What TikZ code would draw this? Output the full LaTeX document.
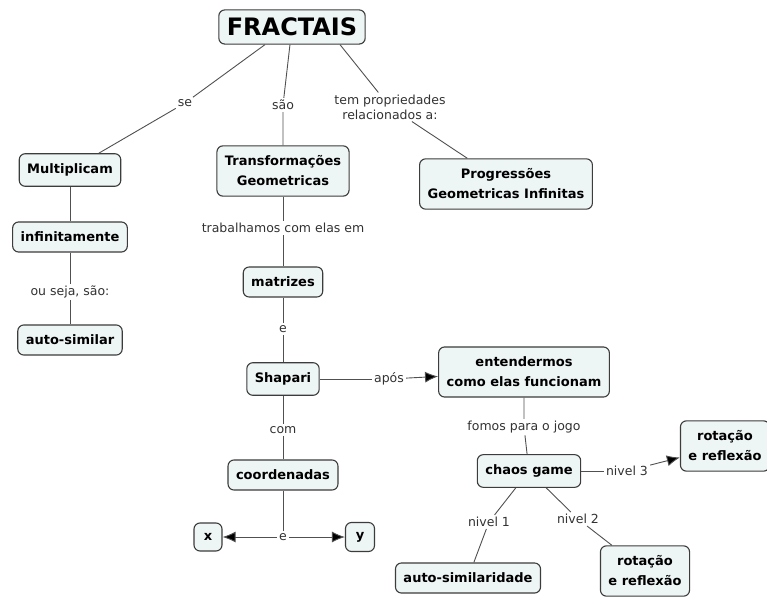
\documentclass[tikz,border=0pt]{standalone}
\usepackage{fontspec}
\setmainfont{DejaVu Sans}
\usetikzlibrary{arrows.meta,positioning}

\definecolor{conceptfill}{RGB}{238,245,245}
\definecolor{conceptline}{RGB}{60,60,60}
\definecolor{linkline}{RGB}{80,80,80}
\definecolor{linktext}{RGB}{50,50,50}

\tikzset{
  concept/.style={draw=conceptline, line width=1.1pt, fill=conceptfill,
    rounded corners=6pt, align=center, inner xsep=8pt, inner ysep=10pt,
    font=\fontsize{13}{20}\selectfont\bfseries},
  link/.style={inner sep=2pt, align=center, text=linktext,
    font=\fontsize{12.5}{15}\selectfont},
  tie/.style={draw=linkline, line width=0.9pt},
  pointer/.style={tie, -{Latex[length=13pt,width=11pt,fill=black]}}
}

\begin{document}
\begin{tikzpicture}[x=1pt, y=-1pt, on grid]
  \useasboundingbox (0,0) rectangle (767,601);

  \node[concept, font=\fontsize{24}{28}\selectfont\bfseries, inner ysep=8pt] (fractais) at (292,27) {FRACTAIS};

  % left branch
  \node[link] [below left=76pt and 107pt of fractais] (l_se) {se};
  \node[concept] [below left=67pt and 115pt of l_se] (multiplicam) {Multiplicam};
  \node[concept] [below=67pt of multiplicam] (infinitamente) {infinitamente};
  \node[link] [below=55pt of infinitamente] (l_ouseja) {ou seja, são:};
  \node[concept] [below=48pt of l_ouseja] (autosimilar) {auto-similar};

  % middle branch
  \node[link] [below left=78pt and 9pt of fractais] (l_sao) {são};
  \node[concept] [below=66pt of l_sao] (transf) {Transformações\\Geometricas};
  \node[link] [below=57pt of transf] (l_trab) {trabalhamos com elas em};
  \node[concept] [below=54pt of l_trab] (matrizes) {matrizes};
  \node[link] [below=47pt of matrizes] (l_e1) {e};
  \node[concept] [below=50pt of l_e1] (shapari) {Shapari};
  \node[link] [below=51pt of shapari] (l_com) {com};
  \node[concept] [below=45pt of l_com] (coordenadas) {coordenadas};
  \node[link] [below=62pt of coordenadas] (l_e2) {e};
  \node[concept, inner sep=2pt, minimum size=28pt] [left=75pt of l_e2] (cx) {x};
  \node[concept, inner sep=2pt, minimum size=29pt] [right=77pt of l_e2] (cy) {y};

  % right branch
  \node[link] [below right=80pt and 98pt of fractais] (l_tem) {tem propriedades\\relacionados a:};
  \node[concept] [below right=77pt and 116pt of l_tem] (progressoes) {Progressões\\Geometricas Infinitas};

  % after Shapari
  \node[link] [right=106pt of shapari] (l_apos) {após};
  \node[concept] [above right=7pt and 135pt of l_apos] (entender) {entendermos\\como elas funcionam};
  \node[link] [below=55pt of entender] (l_fomos) {fomos para o jogo};
  \node[concept] [below right=44pt and 5pt of l_fomos] (chaos) {chaos game};
  \node[link] [right=98pt of chaos] (l_n3) {nivel 3};
  \node[concept] [above right=25pt and 98pt of l_n3] (rotA) {rotação\\e reflexão};
  \node[link] [below left=51pt and 40pt of chaos] (l_n1) {nivel 1};
  \node[concept] [below left=56pt and 21pt of l_n1] (autosimil) {auto-similaridade};
  \node[link] [below right=48pt and 49pt of chaos] (l_n2) {nivel 2};
  \node[concept] [below right=52pt and 67pt of l_n2] (rotB) {rotação\\e reflexão};

  % connectors
  \path[tie] ([xshift=-27pt]fractais.south) -- (l_se) (l_se) -- (multiplicam);
  \path[tie] (multiplicam) -- (infinitamente);
  \path[tie] (infinitamente) -- (l_ouseja) (l_ouseja) -- (autosimilar);
  \path[tie] (fractais) -- (l_sao) (l_sao) -- (transf);
  \path[tie] (transf) -- (l_trab) (l_trab) -- (matrizes);
  \path[tie] (matrizes) -- (l_e1) (l_e1) -- (shapari);
  \path[tie] (shapari) -- (l_com) (l_com) -- (coordenadas);
  \path[tie] (coordenadas) -- (l_e2);
  \draw[pointer] (l_e2) -- (cx);
  \draw[pointer] (l_e2) -- (cy);
  \path[tie] ([xshift=48pt]fractais.south) -- (l_tem) (l_tem) -- (progressoes);
  \path[tie] (shapari) -- (l_apos);
  \draw[pointer] (l_apos) -- (entender);
  \path[tie] (entender) -- (l_fomos) (l_fomos) -- (chaos);
  \path[tie] (chaos) -- (l_n3);
  \draw[pointer] (l_n3) -- (rotA);
  \path[tie] (chaos) -- (l_n1) (l_n1) -- (autosimil);
  \path[tie] (chaos) -- (l_n2) (l_n2) -- (rotB);
\end{tikzpicture}
\end{document}
